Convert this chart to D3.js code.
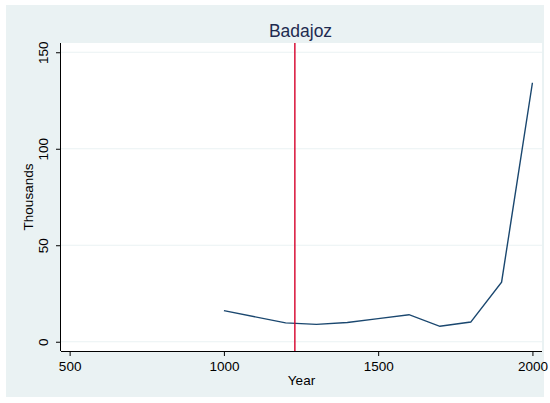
<!DOCTYPE html>
<html><head><meta charset="utf-8">
<script src="https://cdn.jsdelivr.net/npm/d3@7"></script>
<style>body{margin:0;background:#fff}</style>
</head><body>
<svg id="c" width="550" height="403"></svg>
<script>
const years = [1000, 1200, 1300, 1400, 1500, 1600, 1700, 1800, 1900, 2000];
const values = [16.1, 9.8, 9.0, 10.0, 12.0, 14.0, 8.0, 10.2, 30.9, 134.2];
const xTicks = [500, 1000, 1500, 2000];
const yTicks = [0, 50, 100, 150];
const markerYear = [1230];
const title = "Badajoz";

const svg = d3.select("#c");
const font = "'Liberation Sans', Arial, sans-serif";
const fs = 13.5;
svg.append("rect").attr("x",6).attr("y",5).attr("width",538).attr("height",392).attr("fill","#eaf2f3");
const L=61,R=542,T=43,B=351;
svg.append("rect").attr("x",L).attr("y",T).attr("width",R-L).attr("height",B-T).attr("fill","#fff");
const x = d3.scaleLinear().domain([472,2031]).range([L,R]);
const y = d3.scaleLinear().domain([-4.8,154.8]).range([B,T]);

svg.append("g").selectAll("line").data(yTicks).join("line")
  .attr("x1",L).attr("x2",R).attr("y1",d=>y(d)).attr("y2",d=>y(d))
  .attr("stroke","#eaf2f3").attr("stroke-width",1.2);

const xa = svg.append("g").attr("transform",`translate(0,${B})`)
  .call(d3.axisBottom(x).tickValues(xTicks).tickSize(5).tickPadding(5).tickFormat(d3.format("d")));
xa.select(".domain").attr("d",`M${L},0.5H${R}`).attr("stroke","#000");
xa.selectAll("text").attr("font-family",font).attr("font-size",fs).attr("fill","#000");
const ya = svg.append("g").attr("transform",`translate(${L},0)`)
  .call(d3.axisLeft(y).tickValues(yTicks).tickSize(5).tickPadding(0).tickFormat(d3.format("d")));
ya.select(".domain").attr("d",`M-0.5,${T}V${B}`).attr("stroke","#000");
ya.selectAll("text").attr("font-family",font).attr("font-size",fs).attr("fill","#000")
  .attr("text-anchor","middle").attr("transform","translate(-18,0) rotate(-90)")
  .attr("x",0).attr("y",0).attr("dy","0.35em");

svg.append("path").datum(years.map((d,i)=>[d,values[i]]))
  .attr("d",d3.line().x(d=>x(d[0])).y(d=>y(d[1])))
  .attr("fill","none").attr("stroke","#1a476f").attr("stroke-width",1.4);

svg.selectAll(".mk").data(markerYear).join("line").attr("class","mk")
  .attr("x1",d=>x(d)).attr("x2",d=>x(d)).attr("y1",T).attr("y2",B)
  .attr("stroke","#d6002b").attr("stroke-width",1.4);

svg.append("text").attr("x",(L+R)/2-1).attr("y",37).attr("text-anchor","middle")
  .attr("font-family",font).attr("font-size",17.5).attr("fill","#1e2b50").text(title);
svg.append("text").attr("x",(L+R)/2).attr("y",385).attr("text-anchor","middle")
  .attr("font-family",font).attr("font-size",fs).attr("fill","#000").text("Year");
svg.append("text").attr("transform",`translate(33,${(T+B)/2}) rotate(-90)`).attr("text-anchor","middle")
  .attr("font-family",font).attr("font-size",fs).attr("fill","#000").text("Thousands");
</script>
</body></html>
